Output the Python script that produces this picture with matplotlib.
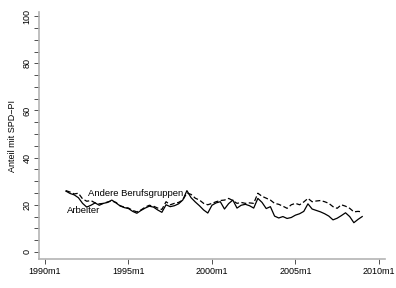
import numpy as np
import matplotlib
matplotlib.use('Agg')
import matplotlib.pyplot as plt
from matplotlib.ticker import MultipleLocator

plt.rcParams['font.family'] = ['Liberation Sans', 'DejaVu Sans']

# quarterly readings, starting 1991m4
start_year = 1991.25
arbeiter = [25.8, 24.8, 24.2, 23.0, 20.6, 19.0, 19.8, 20.8, 19.8, 20.6, 21.0, 22.0,
            20.8, 19.5, 18.8, 18.4, 17.2, 16.4, 17.6, 18.6, 19.4, 19.0, 17.8, 16.8,
            20.0, 19.2, 19.6, 20.4, 22.0, 26.0, 23.0, 21.2, 19.6, 17.8, 16.5, 19.8,
            20.8, 21.3, 18.2, 20.5, 22.0, 18.6, 19.8, 20.2, 19.6, 18.6, 22.7, 21.0,
            18.4, 19.2, 15.2, 14.4, 15.0, 14.2, 14.6, 15.6, 16.2, 17.2, 20.4, 18.2,
            17.6, 17.0, 16.2, 15.2, 13.6, 14.3, 15.4, 16.6, 15.0, 12.4, 13.8, 15.0]
andere = [26.0, 25.4, 24.6, 24.9, 22.5, 21.5, 21.8, 20.8, 20.4, 20.6, 21.2, 21.6,
          21.0, 19.6, 19.0, 18.6, 17.6, 17.0, 17.8, 19.0, 19.8, 19.4, 18.6, 18.0,
          21.3, 20.0, 20.6, 21.0, 22.0, 25.0, 24.4, 22.8, 22.0, 20.6, 20.0, 20.6,
          21.3, 21.8, 22.0, 22.7, 21.8, 20.6, 21.0, 20.6, 20.8, 20.6, 24.9, 23.6,
          22.8, 22.0, 20.6, 20.2, 19.4, 18.5, 20.0, 20.6, 20.0, 21.2, 22.7, 21.3,
          21.6, 21.8, 21.3, 20.6, 19.2, 18.5, 20.0, 19.4, 18.5, 17.0, 17.2, 17.0]
xticks = [1990, 1995, 2000, 2005, 2010]
xticklabels = ['1990m1', '1995m1', '2000m1', '2005m1', '2010m1']

t = start_year + 0.25 * np.arange(len(arbeiter))

fig = plt.figure(figsize=(3.96, 2.88), dpi=100)
ax = fig.add_axes([0.0985, 0.1007, 0.8735, 0.857])

ax.plot(t, arbeiter, color='black', lw=0.9)
ax.plot(t, andere, color='black', lw=0.9, dashes=(4, 2))

ax.text(1991.32, 17.4, 'Arbeiter', fontsize=6.8, va='center', ha='left')
ax.text(1992.57, 24.8, 'Andere Berufsgruppen', fontsize=6.8, va='center', ha='left')

ax.set_xlim(1989.64, 2010.36)
ax.set_ylim(-3, 101.7)
ax.set_xticks(xticks)
ax.set_xticklabels(xticklabels, fontsize=6.5)
ax.set_yticks(range(0, 101, 20))
ax.set_yticklabels([str(v) for v in range(0, 101, 20)], fontsize=6.5,
                   rotation=90, va='center')
ax.yaxis.set_minor_locator(MultipleLocator(5))
ax.tick_params(axis='both', which='both', length=3.5, width=0.6, color='#333333', pad=2)
ax.set_ylabel('Anteil mit SPD\u2212PI', fontsize=6.5, labelpad=4)

for s in ['top', 'right']:
    ax.spines[s].set_visible(False)
for s in ['left', 'bottom']:
    ax.spines[s].set_color('#b4b4b4')
    ax.spines[s].set_linewidth(1.2)

fig.savefig('out.png', dpi=100)
